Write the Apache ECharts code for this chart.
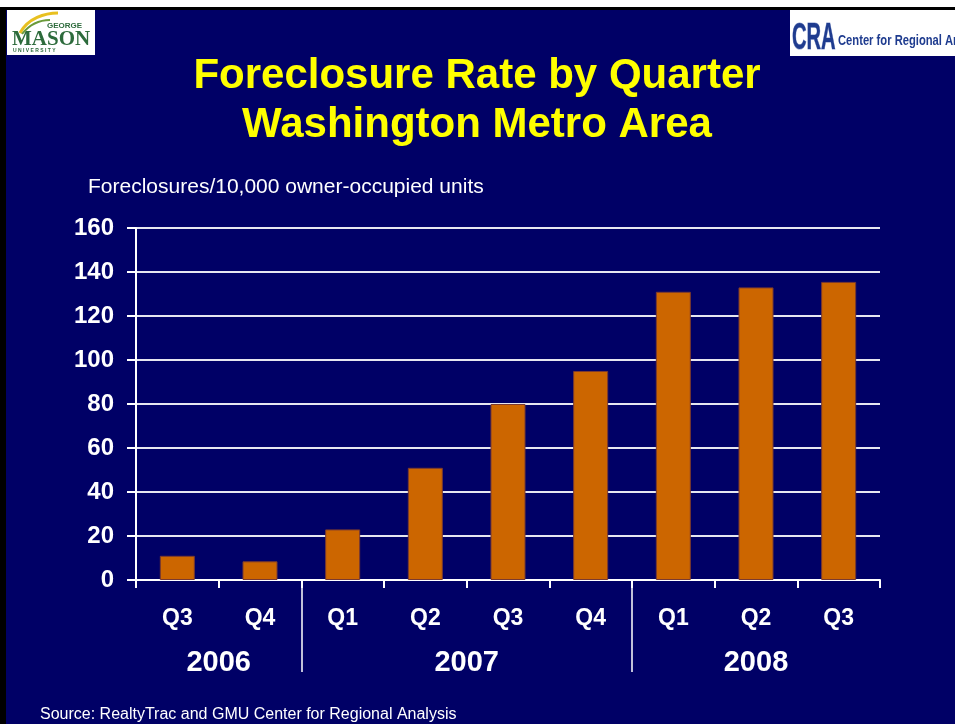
<!DOCTYPE html>
<html>
<head>
<meta charset="utf-8">
<script src="https://cdn.jsdelivr.net/npm/echarts@6/dist/echarts.min.js"></script>
<style>
  html, body { margin: 0; padding: 0; background: #000066; }
  #chart { width: 955px; height: 724px; }
</style>
</head>
<body>
<div id="chart"></div>
<script>
// quarters along the bottom, grouped by year
const quarters = ['Q3', 'Q4', 'Q1', 'Q2', 'Q3', 'Q4', 'Q1', 'Q2', 'Q3'];
const rates = [11, 8.5, 23, 51, 80, 95, 131, 133, 135.5];
const years = ['2006', '2007', '2008'];
const quartersInYear = [2, 4, 3];
const yTicks = [0, 20, 40, 60, 80, 100, 120, 140, 160];

// year separators and label centers, in category units
let separators = [];
let yearCenters = [];
let acc = 0;
quartersInYear.forEach((n, i) => {
  yearCenters.push(acc + n / 2);
  acc += n;
  if (i < quartersInYear.length - 1) separators.push(acc);
});

const chart = echarts.init(document.getElementById('chart'));
const white = '#ffffff';
const navyText = '#1f3c8f';
const green = '#2d6b3c';

chart.setOption({
  backgroundColor: '#000066',
  animation: false,
  textStyle: { fontFamily: 'Liberation Sans, Arial, sans-serif' },
  graphic: [
    // slide frame
    { type: 'rect', shape: { x: 0, y: 0, width: 955, height: 7 }, style: { fill: '#ffffff' } },
    { type: 'rect', shape: { x: 0, y: 7, width: 955, height: 3 }, style: { fill: '#000000' } },
    { type: 'rect', shape: { x: 0, y: 7, width: 6, height: 717 }, style: { fill: '#000000' } },
    // George Mason logo
    { type: 'rect', shape: { x: 7, y: 10, width: 88, height: 45 }, style: { fill: '#ffffff' } },
    { type: 'bezierCurve', shape: { x1: 20, y1: 33, x2: 58, y2: 13, cpx1: 28, cpy1: 18, cpx2: 45, cpy2: 13 },
      style: { stroke: '#e8c020', lineWidth: 3, fill: null } },
    { type: 'bezierCurve', shape: { x1: 22, y1: 34, x2: 50, y2: 20, cpx1: 30, cpy1: 24, cpx2: 40, cpy2: 20 },
      style: { stroke: '#6a9a3a', lineWidth: 2, fill: null } },
    { type: 'text', x: 47, y: 22, style: { text: 'GEORGE', fill: green, font: 'bold 8px Liberation Sans' } },
    { type: 'text', x: 12, y: 29, style: { text: 'MASON', fill: green, font: 'bold 21px Liberation Serif' } },
    { type: 'text', x: 13, y: 48, style: { text: 'U N I V E R S I T Y', fill: green, font: 'bold 5px Liberation Sans' } },
    // Center for Regional Analysis logo
    { type: 'rect', shape: { x: 790, y: 10, width: 165, height: 46 }, style: { fill: '#ffffff' } },
    { type: 'text', x: 792, y: 21, scaleX: 0.56, style: { text: 'CRA', fill: navyText, font: 'bold 36px Liberation Sans', stroke: '#8fa0d0', lineWidth: 1 } },
    { type: 'text', x: 838, y: 34, scaleX: 0.8, style: { text: 'Center for Regional Analysis', fill: navyText, font: 'bold 14px Liberation Sans' } },
    // titles
    { type: 'text', x: 477, y: 52, style: {
        text: 'Foreclosure Rate by Quarter\nWashington Metro Area', fill: '#ffff00',
        font: 'bold 42px Liberation Sans', lineHeight: 49, align: 'center' } },
    { type: 'text', x: 88, y: 177, style: { text: 'Foreclosures/10,000 owner-occupied units', fill: white, font: '21px Liberation Sans' } },
    { type: 'text', x: 40, y: 707, style: { text: 'Source: RealtyTrac and GMU Center for Regional Analysis', fill: white, font: '16px Liberation Sans' } }
  ],
  grid: { left: 136, right: 75, top: 228, bottom: 144 },
  xAxis: [
    {
      type: 'category',
      data: quarters,
      axisLine: { lineStyle: { color: white, width: 2 } },
      axisTick: { show: true, length: 8, lineStyle: { color: white, width: 2 } },
      axisLabel: { color: white, fontSize: 23, fontWeight: 'bold', margin: 27 },
      splitLine: { show: false }
    },
    {
      type: 'value',
      min: 0,
      max: quarters.length,
      position: 'bottom',
      axisLine: { show: false },
      splitLine: { show: false },
      axisTick: { show: true, customValues: separators, length: 92, lineStyle: { color: white, width: 1.5 } },
      axisLabel: {
        customValues: yearCenters,
        formatter: (v) => years[yearCenters.indexOf(v)],
        color: white, fontSize: 29, fontWeight: 'bold', margin: 68
      }
    }
  ],
  yAxis: {
    type: 'value',
    min: yTicks[0],
    max: yTicks[yTicks.length - 1],
    interval: yTicks[1] - yTicks[0],
    axisLine: { show: true, lineStyle: { color: white, width: 2 } },
    axisTick: { show: true, length: 9, lineStyle: { color: white, width: 2 } },
    axisLabel: { color: white, fontSize: 24, fontWeight: 'bold', margin: 22 },
    splitLine: { lineStyle: { color: '#e6e6f0', width: 2 } }
  },
  series: [
    {
      type: 'bar',
      data: rates,
      barWidth: 35,
      itemStyle: { color: '#cc6600', borderColor: '#7a3a30', borderWidth: 1 }
    }
  ]
});
</script>
</body>
</html>
